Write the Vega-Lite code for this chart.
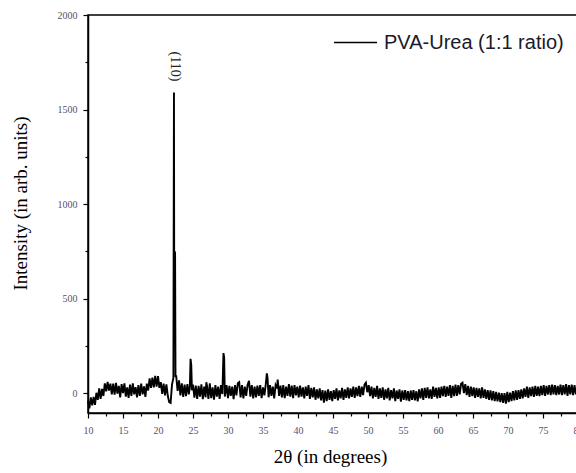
{
  "$schema": "https://vega.github.io/schema/vega-lite/v6.json",
  "autosize": "none",
  "width": 490,
  "height": 398,
  "padding": {"left": 88, "top": 15, "right": 0, "bottom": 60},
  "background": "white",
  "config": {
    "view": {"stroke": "black", "strokeWidth": 1.5},
    "axis": {"grid": false, "domainColor": "black", "domainWidth": 1.5, "tickColor": "black", "tickWidth": 1.2,
      "labelFont": "Liberation Serif", "labelFontSize": 10, "labelColor": "#55506a", "labelOverlap": false,
      "titleFont": "Liberation Serif", "titleFontWeight": "normal", "titleColor": "black"}
  },
  "encoding": {
    "x": {"field": "x", "type": "quantitative",
      "scale": {"domain": [10, 80], "nice": false, "zero": false},
      "axis": {"title": "2θ (in degrees)", "titleFontSize": 19, "titleX": 242, "titleY": 43, "titleBaseline": "middle",
        "values": [10,12.5,15,17.5,20,22.5,25,27.5,30,32.5,35,37.5,40,42.5,45,47.5,50,52.5,55,57.5,60,62.5,65,67.5,70,72.5,75,77.5,80],
        "labelExpr": "datum.value % 5 === 0 ? datum.label : ''",
        "tickSize": {"condition": {"test": "datum.value % 5 === 0", "value": 5}, "value": 3},
        "labelPadding": 7, "labelFlush": false, "labelOverlap": false}},
    "y": {"field": "y", "type": "quantitative",
      "scale": {"domain": [-105, 2000], "nice": false, "zero": false},
      "axis": {"title": "Intensity (in arb. units)", "titleFontSize": 19, "titleX": -68, "titleY": 188, "titleBaseline": "middle", "titleAngle": -90,
        "values": [0,250,500,750,1000,1250,1500,1750,2000],
        "format": "d",
        "labelExpr": "datum.value % 500 === 0 ? datum.label : ''",
        "tickSize": {"condition": {"test": "datum.value % 500 === 0", "value": 5}, "value": 3},
        "labelPadding": 6, "labelOverlap": false}}
  },
  "layer": [
    {
      "data": {"values": [
        {"x":10.0,"y":-40},{"x":10.2,"y":-80},{"x":10.4,"y":-22},{"x":10.6,"y":-65},{"x":10.8,"y":-20},{"x":11.0,"y":-62},
        {"x":11.2,"y":2},{"x":11.4,"y":-35},{"x":11.6,"y":25},{"x":11.8,"y":-30},{"x":12.0,"y":22},
        {"x":12.2,"y":-15},{"x":12.4,"y":52},{"x":12.6,"y":10},{"x":12.8,"y":60},{"x":13.0,"y":14},
        {"x":13.2,"y":50},{"x":13.4,"y":-6},{"x":13.6,"y":50},{"x":13.8,"y":-8},{"x":14.0,"y":55},
        {"x":14.2,"y":-2},{"x":14.4,"y":38},{"x":14.6,"y":-22},{"x":14.8,"y":48},{"x":15.0,"y":0},
        {"x":15.2,"y":52},{"x":15.4,"y":-18},{"x":15.6,"y":30},{"x":15.8,"y":-25},{"x":16.0,"y":45},
        {"x":16.2,"y":-14},{"x":16.4,"y":52},{"x":16.6,"y":-6},{"x":16.8,"y":32},{"x":17.0,"y":-22},
        {"x":17.2,"y":42},{"x":17.4,"y":-15},{"x":17.6,"y":50},{"x":17.8,"y":-6},{"x":18.0,"y":36},
        {"x":18.2,"y":-20},{"x":18.4,"y":50},{"x":18.6,"y":14},{"x":18.8,"y":78},{"x":19.0,"y":28},
        {"x":19.2,"y":82},{"x":19.4,"y":30},{"x":19.6,"y":92},{"x":19.8,"y":35},{"x":20.0,"y":90},
        {"x":20.2,"y":28},{"x":20.4,"y":58},{"x":20.6,"y":-4},{"x":20.8,"y":50},{"x":21.0,"y":-12},
        {"x":21.2,"y":46},{"x":21.4,"y":-14},{"x":21.6,"y":-48},{"x":21.8,"y":-52},{"x":22.0,"y":45},
        {"x":22.2,"y":80},{"x":22.28,"y":1590},{"x":22.32,"y":500},{"x":22.36,"y":750},{"x":22.44,"y":740},{"x":22.5,"y":90},
        {"x":22.6,"y":90},{"x":22.8,"y":12},{"x":23.0,"y":68},{"x":23.2,"y":-12},{"x":23.4,"y":52},{"x":23.6,"y":-20},
        {"x":23.8,"y":45},{"x":24.0,"y":-16},{"x":24.2,"y":48},{"x":24.4,"y":-6},{"x":24.55,"y":30},{"x":24.65,"y":182},
        {"x":24.75,"y":150},{"x":24.85,"y":15},{"x":25.0,"y":45},{"x":25.2,"y":-24},{"x":25.4,"y":40},{"x":25.6,"y":-30},
        {"x":25.8,"y":38},{"x":26.0,"y":-18},{"x":26.2,"y":46},{"x":26.4,"y":-32},{"x":26.6,"y":34},{"x":26.8,"y":-22},
        {"x":26.9,"y":58},{"x":27.0,"y":40},{"x":27.2,"y":-30},{"x":27.4,"y":52},{"x":27.6,"y":-26},{"x":27.8,"y":30},
        {"x":28.0,"y":-35},{"x":28.2,"y":42},{"x":28.4,"y":-18},{"x":28.6,"y":35},{"x":28.8,"y":-30},{"x":29.0,"y":42},
        {"x":29.2,"y":-5},{"x":29.35,"y":212},{"x":29.45,"y":190},{"x":29.55,"y":-18},{"x":29.8,"y":42},{"x":30.0,"y":-26},
        {"x":30.2,"y":38},{"x":30.4,"y":-15},{"x":30.6,"y":35},{"x":30.8,"y":-32},{"x":31.0,"y":42},{"x":31.2,"y":-12},
        {"x":31.4,"y":52},{"x":31.6,"y":58},{"x":31.8,"y":-22},{"x":32.0,"y":42},{"x":32.2,"y":-28},{"x":32.4,"y":35},
        {"x":32.6,"y":-15},{"x":32.8,"y":45},{"x":33.0,"y":65},{"x":33.2,"y":-18},{"x":33.4,"y":42},{"x":33.6,"y":-28},
        {"x":33.8,"y":35},{"x":34.0,"y":-22},{"x":34.2,"y":40},{"x":34.4,"y":-15},{"x":34.6,"y":42},{"x":34.8,"y":-26},
        {"x":35.0,"y":30},{"x":35.2,"y":-12},{"x":35.4,"y":48},{"x":35.55,"y":105},{"x":35.65,"y":80},{"x":35.8,"y":-22},
        {"x":36.0,"y":42},{"x":36.2,"y":-15},{"x":36.4,"y":35},{"x":36.6,"y":-28},{"x":36.8,"y":42},{"x":37.0,"y":25},
        {"x":37.1,"y":72},{"x":37.3,"y":-15},{"x":37.5,"y":40},{"x":37.7,"y":-22},{"x":37.9,"y":42},{"x":38.1,"y":-26},
        {"x":38.3,"y":35},{"x":38.5,"y":-15},{"x":38.7,"y":48},{"x":38.9,"y":-18},{"x":39.1,"y":40},{"x":39.3,"y":-26},
        {"x":39.5,"y":42},{"x":39.7,"y":-12},{"x":39.9,"y":35},{"x":40.1,"y":-22},{"x":40.3,"y":40},{"x":40.5,"y":-18},
        {"x":40.7,"y":30},{"x":40.9,"y":-28},{"x":41.1,"y":35},{"x":41.3,"y":-15},{"x":41.5,"y":42},{"x":41.7,"y":-30},
        {"x":41.9,"y":28},{"x":42.1,"y":-22},{"x":42.3,"y":30},{"x":42.5,"y":-35},{"x":42.7,"y":20},{"x":42.9,"y":-28},
        {"x":43.1,"y":25},{"x":43.3,"y":-38},{"x":43.5,"y":16},{"x":43.7,"y":-50},{"x":43.9,"y":14},{"x":44.1,"y":-42},
        {"x":44.3,"y":20},{"x":44.5,"y":-35},{"x":44.7,"y":10},{"x":44.9,"y":-42},{"x":45.1,"y":16},{"x":45.3,"y":-30},
        {"x":45.5,"y":25},{"x":45.7,"y":-38},{"x":45.9,"y":14},{"x":46.1,"y":-28},{"x":46.3,"y":28},{"x":46.5,"y":-35},
        {"x":46.7,"y":20},{"x":46.9,"y":-25},{"x":47.1,"y":30},{"x":47.3,"y":-28},{"x":47.5,"y":25},{"x":47.7,"y":-20},
        {"x":47.9,"y":35},{"x":48.1,"y":-25},{"x":48.3,"y":30},{"x":48.5,"y":-16},{"x":48.7,"y":38},{"x":48.9,"y":-20},
        {"x":49.1,"y":35},{"x":49.3,"y":-10},{"x":49.5,"y":45},{"x":49.7,"y":55},{"x":49.9,"y":5},{"x":50.1,"y":42},
        {"x":50.3,"y":-16},{"x":50.5,"y":35},{"x":50.7,"y":-28},{"x":50.9,"y":28},{"x":51.1,"y":-20},{"x":51.3,"y":38},
        {"x":51.5,"y":-30},{"x":51.7,"y":25},{"x":51.9,"y":-25},{"x":52.1,"y":30},{"x":52.3,"y":-35},{"x":52.5,"y":20},
        {"x":52.7,"y":-28},{"x":52.9,"y":28},{"x":53.1,"y":-38},{"x":53.3,"y":16},{"x":53.5,"y":-28},{"x":53.7,"y":25},
        {"x":53.9,"y":-42},{"x":54.1,"y":14},{"x":54.3,"y":-30},{"x":54.5,"y":20},{"x":54.7,"y":-45},{"x":54.9,"y":14},
        {"x":55.1,"y":-35},{"x":55.3,"y":16},{"x":55.5,"y":-38},{"x":55.7,"y":10},{"x":55.9,"y":-42},{"x":56.1,"y":14},
        {"x":56.3,"y":-35},{"x":56.5,"y":16},{"x":56.7,"y":-38},{"x":56.9,"y":10},{"x":57.1,"y":-44},{"x":57.3,"y":20},
        {"x":57.5,"y":-28},{"x":57.7,"y":25},{"x":57.9,"y":-35},{"x":58.1,"y":28},{"x":58.3,"y":-25},{"x":58.5,"y":30},
        {"x":58.7,"y":-28},{"x":58.9,"y":20},{"x":59.1,"y":-30},{"x":59.3,"y":35},{"x":59.5,"y":-20},{"x":59.7,"y":28},
        {"x":59.9,"y":-28},{"x":60.1,"y":30},{"x":60.3,"y":-25},{"x":60.5,"y":35},{"x":60.7,"y":-16},{"x":60.9,"y":38},
        {"x":61.1,"y":-20},{"x":61.3,"y":35},{"x":61.5,"y":-14},{"x":61.7,"y":42},{"x":61.9,"y":-25},{"x":62.1,"y":38},
        {"x":62.3,"y":-16},{"x":62.5,"y":45},{"x":62.7,"y":-14},{"x":62.9,"y":42},{"x":63.1,"y":-7},{"x":63.3,"y":50},
        {"x":63.5,"y":55},{"x":63.7,"y":0},{"x":63.9,"y":48},{"x":64.1,"y":-11},{"x":64.3,"y":38},{"x":64.5,"y":-20},
        {"x":64.7,"y":35},{"x":64.9,"y":-16},{"x":65.1,"y":30},{"x":65.3,"y":-25},{"x":65.5,"y":28},{"x":65.7,"y":-20},
        {"x":65.9,"y":25},{"x":66.1,"y":-28},{"x":66.3,"y":30},{"x":66.5,"y":-25},{"x":66.7,"y":20},{"x":66.9,"y":-30},
        {"x":67.1,"y":16},{"x":67.3,"y":-35},{"x":67.5,"y":14},{"x":67.7,"y":-38},{"x":67.9,"y":10},{"x":68.1,"y":-42},
        {"x":68.3,"y":7},{"x":68.5,"y":-44},{"x":68.7,"y":3},{"x":68.9,"y":-48},{"x":69.1,"y":0},{"x":69.3,"y":-52},
        {"x":69.5,"y":0},{"x":69.7,"y":-55},{"x":69.9,"y":7},{"x":70.1,"y":-48},{"x":70.3,"y":3},{"x":70.5,"y":-42},
        {"x":70.7,"y":10},{"x":70.9,"y":-38},{"x":71.1,"y":14},{"x":71.3,"y":-35},{"x":71.5,"y":16},{"x":71.7,"y":-30},
        {"x":71.9,"y":20},{"x":72.1,"y":-28},{"x":72.3,"y":25},{"x":72.5,"y":-20},{"x":72.7,"y":35},{"x":72.9,"y":-25},
        {"x":73.1,"y":30},{"x":73.3,"y":-16},{"x":73.5,"y":35},{"x":73.7,"y":-20},{"x":73.9,"y":38},{"x":74.1,"y":-14},
        {"x":74.3,"y":35},{"x":74.5,"y":-16},{"x":74.7,"y":38},{"x":74.9,"y":-11},{"x":75.1,"y":42},{"x":75.3,"y":-14},
        {"x":75.5,"y":38},{"x":75.7,"y":-7},{"x":75.9,"y":42},{"x":76.1,"y":-11},{"x":76.3,"y":45},{"x":76.5,"y":-7},
        {"x":76.7,"y":42},{"x":76.9,"y":-11},{"x":77.1,"y":38},{"x":77.3,"y":-7},{"x":77.5,"y":45},{"x":77.7,"y":-11},
        {"x":77.9,"y":42},{"x":78.1,"y":-7},{"x":78.3,"y":48},{"x":78.5,"y":-14},{"x":78.7,"y":42},{"x":78.9,"y":-7},
        {"x":79.1,"y":45},{"x":79.3,"y":-11},{"x":79.5,"y":42},{"x":79.7,"y":-7},{"x":79.9,"y":38},{"x":80.0,"y":5}
      ]},
      "mark": {"type": "line", "strokeWidth": 1.9, "interpolate": "linear"},
      "encoding": {
        "color": {"datum": "PVA-Urea (1:1 ratio)", "type": "nominal",
          "scale": {"range": ["black"]},
          "legend": {"title": null, "orient": "none", "legendX": 245, "legendY": 5,
            "symbolType": "stroke", "symbolSize": 1849, "symbolStrokeWidth": 1.5, "symbolStrokeColor": "black",
            "labelFont": "Liberation Sans", "labelFontSize": 20, "labelColor": "#1a1a2a", "labelOffset": 6, "labelLimit": 400}}
      }
    },
    {
      "data": {"values": [{"x": 22.43, "y": 1728, "label": "(110)"}]},
      "mark": {"type": "text", "angle": 90, "align": "center", "baseline": "middle", "font": "Liberation Serif", "fontSize": 14, "color": "#222"},
      "encoding": {
        "text": {"field": "label"}
      }
    }
  ]
}
